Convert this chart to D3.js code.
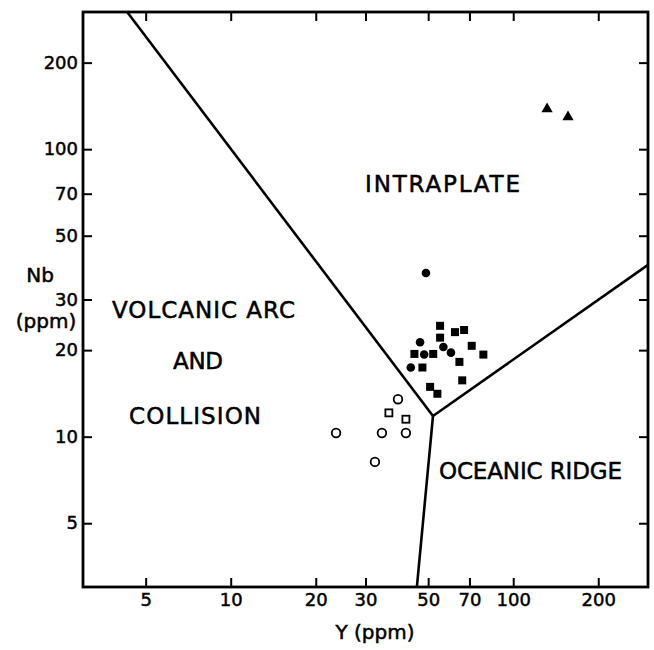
<!DOCTYPE html>
<html>
<head>
<meta charset="utf-8">
<title>Nb - Y discrimination diagram</title>
<script src="https://d3js.org/d3.v7.min.js"></script>
<style>
  body { margin: 0; background: #fff; }
  text { font-family: "DejaVu Sans", sans-serif; fill: #000; stroke: #000; stroke-width: 0.5px; }
</style>
</head>
<body>
<div id="chart"></div>
<script>
// tick values on both axes
var yTicks = [5, 10, 20, 30, 50, 70, 100, 200];
var nbTicks = [5, 10, 20, 30, 50, 70, 100, 200];

// samples, [Y, Nb] in ppm
var filledSquares = [[55.1, 24.3], [62.2, 23.1], [67.0, 23.5], [55.1, 22.1], [44.7, 19.4], [52.1, 19.4],
  [71.3, 20.7], [78.4, 19.3], [64.5, 18.2], [47.7, 17.4], [66.0, 15.7], [50.8, 14.9], [53.9, 14.1]];
var filledCircles = [[49.1, 37.1], [46.8, 21.3], [48.4, 19.3], [56.6, 20.5], [60.2, 19.6], [43.4, 17.4]];
var openCircles = [[23.6, 10.3], [32.4, 8.17], [34.3, 10.3], [41.7, 10.3], [39.1, 13.5]];
var openSquares = [[36.3, 12.1], [41.7, 11.5]];
var triangles = [[131.8, 138], [156.3, 129.4]];

// field boundaries, meeting at a triple point
var triplePoint = [52, 11.8];
var boundaryEnds = [[4.3, 300], [300, 39.6], [45.6, 3]];

// field names and where they sit (Y, Nb of text centre / baseline)
var fieldNames = ["INTRAPLATE", "VOLCANIC ARC", "AND", "COLLISION", "OCEANIC RIDGE"];
var fieldAnchors = [[56.2, 71], [8.01, 25.9], [7.66, 17.2], [7.48, 11.1], [115.1, 7.13]];
var fieldWidths = [155, 183, 50, 132, 183];

var width = 654, height = 650;
var plotL = 83, plotR = 648, plotT = 12, plotB = 587;

var svg = d3.select("#chart").append("svg")
    .attr("width", width)
    .attr("height", height);

var x = d3.scaleLog().domain([3, 300]).range([plotL, plotR]);
var y = d3.scaleLog().domain([3, 300]).range([plotB, plotT]);

// axes, ticks pointing inward
function styleAxis(g) {
  g.select(".domain").remove();
  g.selectAll(".tick line").attr("stroke", "#000").attr("stroke-width", 2);
  g.selectAll(".tick text").attr("font-size", 18).attr("fill", "#000")
    .style("font-family", "DejaVu Sans, sans-serif");
}

svg.append("g")
    .attr("transform", "translate(0," + plotB + ")")
    .call(d3.axisBottom(x).tickValues(yTicks).tickFormat(d3.format("d")).tickSizeInner(-9).tickSizeOuter(0).tickPadding(6))
    .call(styleAxis);
svg.append("g")
    .attr("transform", "translate(0," + plotT + ")")
    .call(d3.axisTop(x).tickValues(yTicks).tickFormat("").tickSizeInner(-9).tickSizeOuter(0))
    .call(styleAxis);
svg.append("g")
    .attr("transform", "translate(" + plotL + ",0)")
    .call(d3.axisLeft(y).tickValues(nbTicks).tickFormat(d3.format("d")).tickSizeInner(-9).tickSizeOuter(0).tickPadding(5))
    .call(styleAxis);
svg.append("g")
    .attr("transform", "translate(" + plotR + ",0)")
    .call(d3.axisRight(y).tickValues(nbTicks).tickFormat("").tickSizeInner(-9).tickSizeOuter(0))
    .call(styleAxis);

// frame
svg.append("rect")
    .attr("x", plotL).attr("y", plotT)
    .attr("width", plotR - plotL).attr("height", plotB - plotT)
    .attr("fill", "none").attr("stroke", "#000").attr("stroke-width", 2.8);

// boundaries
svg.selectAll(".boundary")
    .data(boundaryEnds)
  .enter().append("line")
    .attr("class", "boundary")
    .attr("x1", x(triplePoint[0])).attr("y1", y(triplePoint[1]))
    .attr("x2", function(d) { return x(d[0]); })
    .attr("y2", function(d) { return y(d[1]); })
    .attr("stroke", "#000").attr("stroke-width", 2.6);

// field labels
svg.selectAll(".field")
    .data(fieldNames)
  .enter().append("text")
    .attr("class", "field")
    .attr("x", function(d, i) { return x(fieldAnchors[i][0]); })
    .attr("y", function(d, i) { return y(fieldAnchors[i][1]); })
    .attr("text-anchor", "middle")
    .attr("font-size", 23)
    .attr("textLength", function(d, i) { return fieldWidths[i]; })
    .attr("lengthAdjust", "spacing")
    .text(function(d) { return d; });

// axis titles
svg.append("text").attr("x", 40).attr("y", 282).attr("text-anchor", "middle")
    .attr("font-size", 20).text("Nb");
svg.append("text").attr("x", 46).attr("y", 328).attr("text-anchor", "middle")
    .attr("font-size", 20).text("(ppm)");
svg.append("text").attr("x", 375).attr("y", 639).attr("text-anchor", "middle")
    .attr("font-size", 20).text("Y (ppm)");

// points
svg.selectAll(".fsq").data(filledSquares).enter().append("rect")
    .attr("x", function(d) { return x(d[0]) - 4; })
    .attr("y", function(d) { return y(d[1]) - 4; })
    .attr("width", 8).attr("height", 8).attr("fill", "#000");

svg.selectAll(".fci").data(filledCircles).enter().append("circle")
    .attr("cx", function(d) { return x(d[0]); })
    .attr("cy", function(d) { return y(d[1]); })
    .attr("r", 4.3).attr("fill", "#000");

svg.selectAll(".oci").data(openCircles).enter().append("circle")
    .attr("cx", function(d) { return x(d[0]); })
    .attr("cy", function(d) { return y(d[1]); })
    .attr("r", 4.3).attr("fill", "none").attr("stroke", "#000").attr("stroke-width", 1.8);

svg.selectAll(".osq").data(openSquares).enter().append("rect")
    .attr("x", function(d) { return x(d[0]) - 3.5; })
    .attr("y", function(d) { return y(d[1]) - 3.5; })
    .attr("width", 7).attr("height", 7)
    .attr("fill", "none").attr("stroke", "#000").attr("stroke-width", 1.8);

svg.selectAll(".tri").data(triangles).enter().append("path")
    .attr("transform", function(d) { return "translate(" + x(d[0]) + "," + y(d[1]) + ")"; })
    .attr("d", d3.symbol().type(d3.symbolTriangle).size(55))
    .attr("fill", "#000");
</script>
</body>
</html>
